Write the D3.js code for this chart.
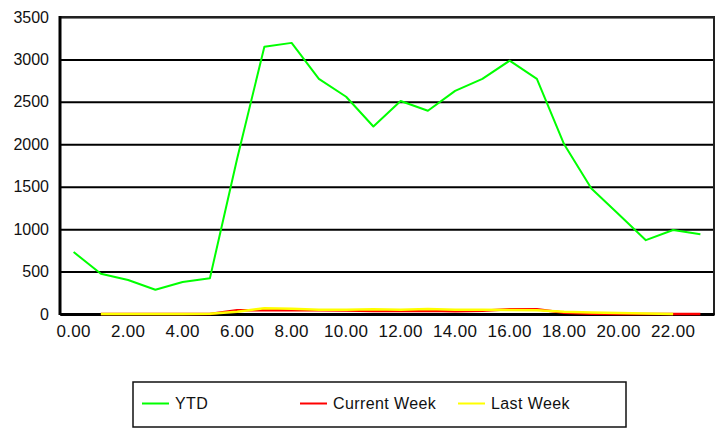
<!DOCTYPE html>
<html>
<head>
<meta charset="utf-8">
<script src="https://cdn.jsdelivr.net/npm/d3@7"></script>
<style>
  html, body { margin: 0; padding: 0; background: #fff; }
  svg { display: block; font-family: "Liberation Sans", Arial, sans-serif; }
</style>
</head>
<body>
<svg id="chart" width="716" height="428"></svg>
<script>
// ---- data ----
const hours = ["0.00","1.00","2.00","3.00","4.00","5.00","6.00","7.00","8.00","9.00","10.00","11.00",
               "12.00","13.00","14.00","15.00","16.00","17.00","18.00","19.00","20.00","21.00","22.00","23.00"];
const xTickLabels = ["0.00","2.00","4.00","6.00","8.00","10.00","12.00","14.00","16.00","18.00","20.00","22.00"];
const yTicks = [0, 500, 1000, 1500, 2000, 2500, 3000, 3500];
const seriesNames = ["YTD", "Current Week", "Last Week"];
const ytd = [730, 475, 400, 285, 378, 420, 1830, 3150, 3195, 2770, 2560, 2210,
             2510, 2395, 2630, 2770, 2985, 2770, 2000, 1480, 1175, 870, 990, 940];
const currentWeek = [null, 0, 0, 0, 0, 0, 45, 43, 43, 45, 40, 35,
                     35, 38, 31, 38, 55, 55, 16, 2, 0, 0, 0, 0];
const lastWeek = [null, 0, 0, 0, 0, 2, 27, 67, 63, 51, 50, 55,
                  51, 60, 51, 51, 47, 43, 27, 19, 12, 6, 0, null];
const seriesColors = ["#00ff00", "#ff0000", "#ffff00"];

(function () {
// ---- layout ----
const svg = d3.select("#chart");
const pLeft = 60, pRight = 714, pTop = 17, pBottom = 314;

const x = d3.scaleBand().domain(hours).range([pLeft, pRight]);
const y = d3.scaleLinear().domain([0, 3500]).range([pBottom, pTop]);
const px = d => x(d) + x.bandwidth() / 2;

// gridlines + y labels
const yAxis = svg.append("g")
  .attr("transform", `translate(${pLeft},0)`)
  .call(d3.axisLeft(y).tickValues(yTicks).tickSize(-(pRight - pLeft)).tickPadding(11).tickFormat(d3.format("d")));
yAxis.select(".domain").remove();
yAxis.selectAll(".tick line").attr("stroke", "#000").attr("stroke-width", 2);
yAxis.selectAll(".tick text").attr("font-size", 16).attr("fill", "#111")
  .attr("font-family", "'Liberation Sans', Arial, sans-serif");

// plot border
svg.append("rect").attr("x", pLeft).attr("y", pTop).attr("width", pRight - pLeft).attr("height", pBottom - pTop)
  .attr("fill", "none").attr("stroke", "#222").attr("stroke-width", 2);
// left axis (thicker)
svg.append("line").attr("x1", pLeft).attr("x2", pLeft).attr("y1", pTop - 1).attr("y2", pBottom + 1)
  .attr("stroke", "#000").attr("stroke-width", 3);

// x axis labels
const xAxis = svg.append("g")
  .attr("transform", `translate(0,${pBottom})`)
  .call(d3.axisBottom(x).tickValues(xTickLabels).tickSize(0).tickPadding(11));
xAxis.select(".domain").attr("stroke", "#000").attr("stroke-width", 3);
xAxis.selectAll(".tick text").attr("font-size", 17).attr("fill", "#111")
  .attr("letter-spacing", "0.3px")
  .attr("font-family", "'Liberation Sans', Arial, sans-serif");

// lines
const allSeries = [ytd, currentWeek, lastWeek];
const line = d3.line()
  .defined(d => d.v !== null)
  .x(d => px(d.h))
  .y(d => y(d.v));
allSeries.forEach((vals, i) => {
  const data = hours.map((h, j) => ({h, v: vals[j]}));
  svg.append("path").datum(data)
    .attr("fill", "none")
    .attr("stroke", seriesColors[i])
    .attr("stroke-width", i === 0 ? 2 : 2.5)
    .attr("stroke-linejoin", "round")
    .attr("d", line);
});

// legend
const lg = svg.append("g");
lg.append("rect").attr("x", 133).attr("y", 382).attr("width", 493).attr("height", 45)
  .attr("fill", "#fff").attr("stroke", "#111").attr("stroke-width", 1.5);
const legendX = [142, 300, 458];
seriesNames.forEach((name, i) => {
  lg.append("line").attr("x1", legendX[i]).attr("x2", legendX[i] + 27)
    .attr("y1", 403.5).attr("y2", 403.5)
    .attr("stroke", seriesColors[i]).attr("stroke-width", 2);
  lg.append("text").attr("x", legendX[i] + 33).attr("y", 409)
    .attr("font-size", 16).attr("fill", "#111")
    .attr("letter-spacing", "0.4px")
    .text(name);
});
})();
</script>
</body>
</html>
